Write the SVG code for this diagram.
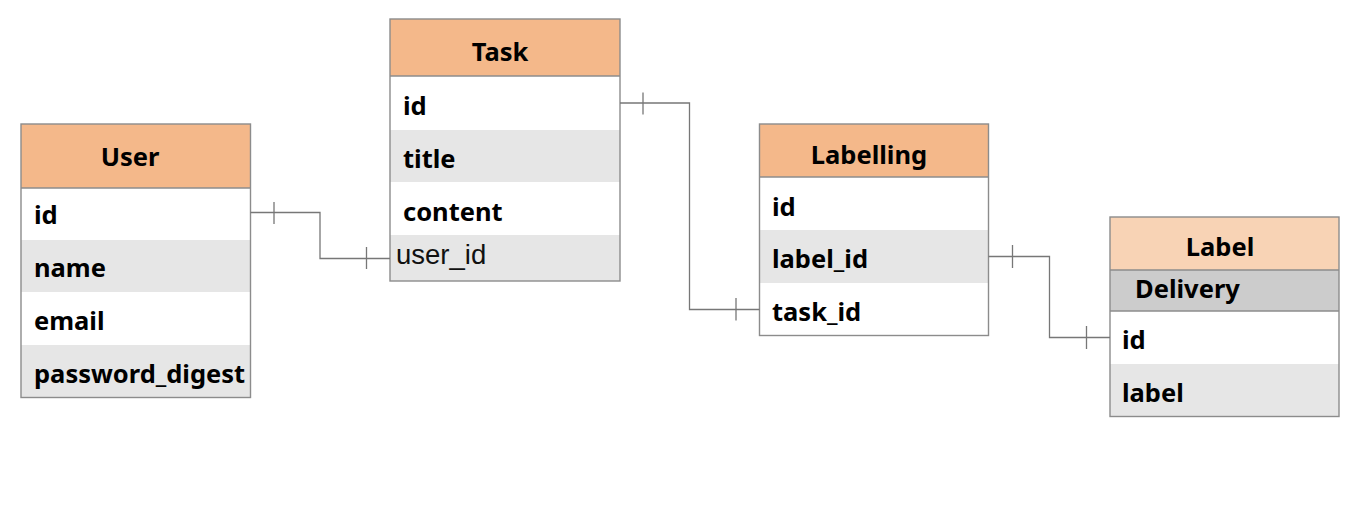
<svg xmlns="http://www.w3.org/2000/svg" width="1362" height="512" viewBox="0 0 1362 512">
<style>
.hdr{fill:#F4B88A}
.hdr2{fill:#F8D3B5}
.sub{fill:#CCCCCC}
.w{fill:#FFFFFF}
.g{fill:#E6E6E6}
.box{fill:none;stroke:#8C8C8C;stroke-width:1.4}
.sep{stroke:#8C8C8C;stroke-width:1.4}
.t{font-family:"Noto Sans","Open Sans",sans-serif;font-weight:bold;font-size:25.5px;fill:#000}
.c{text-anchor:middle}
.r{font-family:"Liberation Sans",Arial,sans-serif;font-size:27.5px;fill:#111}
.conn{fill:none;stroke:#777;stroke-width:1.3}
</style>
<rect width="1362" height="512" fill="#FFFFFF"/>
<g id="user">
<rect class="hdr" x="21" y="124" width="229.5" height="64"/>
<rect class="w" x="21" y="188" width="229.5" height="52"/>
<rect class="g" x="21" y="240" width="229.5" height="52"/>
<rect class="w" x="21" y="292" width="229.5" height="53"/>
<rect class="g" x="21" y="345" width="229.5" height="52.5"/>
<line class="sep" x1="21" y1="188" x2="250.5" y2="188"/>
<rect class="box" x="21" y="124" width="229.5" height="273.5"/>
<text class="t c" x="130" y="166">User</text>
<text class="t" x="34" y="224">id</text>
<text class="t" x="34" y="277">name</text>
<text class="t" x="34" y="330">email</text>
<text class="t" x="34" y="383">password_digest</text>
</g>
<g id="task">
<rect class="hdr" x="390" y="19" width="230" height="57"/>
<rect class="w" x="390" y="76" width="230" height="54"/>
<rect class="g" x="390" y="130" width="230" height="52"/>
<rect class="w" x="390" y="182" width="230" height="53"/>
<rect class="g" x="390" y="235" width="230" height="46"/>
<line class="sep" x1="390" y1="76" x2="620" y2="76"/>
<rect class="box" x="390" y="19" width="230" height="262"/>
<text class="t c" x="500" y="61">Task</text>
<text class="t" x="403" y="115">id</text>
<text class="t" x="403" y="168">title</text>
<text class="t" x="403" y="221">content</text>
<text class="r" x="396" y="264">user_id</text>
</g>
<g id="labelling">
<rect class="hdr" x="759.5" y="124" width="229" height="53"/>
<rect class="w" x="759.5" y="177" width="229" height="53"/>
<rect class="g" x="759.5" y="230" width="229" height="53"/>
<rect class="w" x="759.5" y="283" width="229" height="52.5"/>
<line class="sep" x1="759.5" y1="177" x2="988.5" y2="177"/>
<rect class="box" x="759.5" y="124" width="229" height="211.5"/>
<text class="t c" x="869" y="164">Labelling</text>
<text class="t" x="772" y="216">id</text>
<text class="t" x="772" y="268">label_id</text>
<text class="t" x="772" y="321">task_id</text>
</g>
<g id="label">
<rect class="hdr2" x="1110" y="217" width="229" height="53"/>
<rect class="sub" x="1110" y="270" width="229" height="41"/>
<rect class="w" x="1110" y="311" width="229" height="53"/>
<rect class="g" x="1110" y="364" width="229" height="52.5"/>
<line class="sep" x1="1110" y1="270" x2="1339" y2="270"/>
<line class="sep" x1="1110" y1="311" x2="1339" y2="311"/>
<rect class="box" x="1110" y="217" width="229" height="199.5"/>
<text class="t c" x="1220" y="256">Label</text>
<text class="t" x="1135" y="298">Delivery</text>
<text class="t" x="1122" y="349">id</text>
<text class="t" x="1122" y="402">label</text>
</g>
<g id="connectors">
<path class="conn" d="M250.5,212.5 H320 V258.5 H390"/>
<path class="conn" d="M274,202 V224 M366.5,247 V269"/>
<path class="conn" d="M620,103 H689.5 V309.5 H759.5"/>
<path class="conn" d="M643,92.5 V114.5 M736,298 V320.5"/>
<path class="conn" d="M988.5,256.5 H1049.5 V337.5 H1110"/>
<path class="conn" d="M1012.5,245 V268 M1086.5,326 V349"/>
</g>
</svg>
